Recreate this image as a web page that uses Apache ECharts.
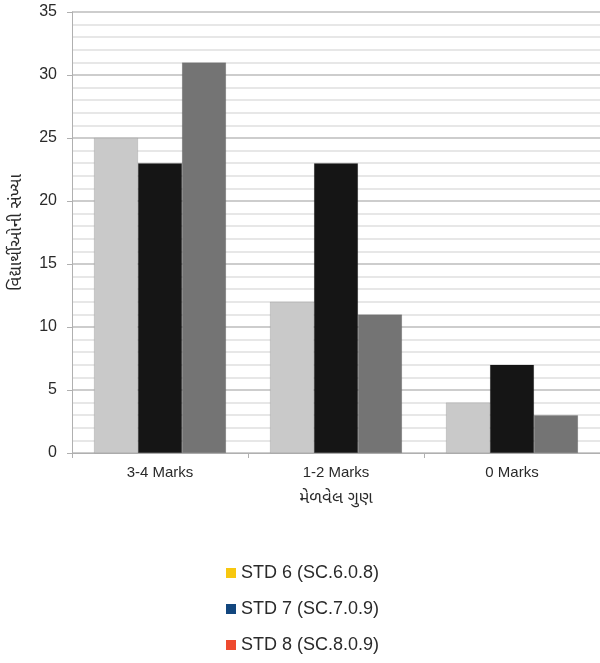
<!DOCTYPE html>
<html>
<head>
<meta charset="utf-8">
<script src="https://cdn.jsdelivr.net/npm/echarts@6/dist/echarts.min.js"></script>
<style>
html,body{margin:0;padding:0;background:#fff;}
#chart{width:600px;height:663px;}
</style>
</head>
<body>
<div id="chart"></div>
<script>
var categories = ['3-4 Marks', '1-2 Marks', '0 Marks'];
var seriesNames = ['STD 6 (SC.6.0.8)', 'STD 7 (SC.7.0.9)', 'STD 8 (SC.8.0.9)'];
var std6 = [25, 12, 4];
var std7 = [23, 23, 7];
var std8 = [31, 11, 3];
var barColors = ['#c9c9c9', '#151515', '#747474'];
var legendColors = ['#f7c70f', '#12467e', '#ee4a2f'];
var yAxisName = 'વિદ્યાર્થીઓની સંખ્યા';
var xAxisName = 'મેળવેલ ગુણ';

var fontFam = '"Liberation Sans", Arial, "Noto Sans Gujarati", "Noto Sans", sans-serif';
var chart = echarts.init(document.getElementById('chart'), null, {renderer: 'canvas'});
var values = [std6, std7, std8];
var series = seriesNames.map(function (n, i) {
  return {
    name: n,
    type: 'bar',
    data: values[i],
    barGap: '0%',
    barCategoryGap: '25%',
    itemStyle: {color: barColors[i], borderColor: 'rgba(0,0,0,0.2)', borderWidth: 0.5},
    emphasis: {disabled: true}
  };
});
chart.setOption({
  animation: false,
  backgroundColor: '#fff',
  grid: {left: 70, right: 0, top: 12, bottom: 210, containLabel: false},
  legend: {
    orient: 'vertical',
    left: 221,
    top: 559,
    itemWidth: 10,
    itemHeight: 10,
    itemGap: 18,
    icon: 'rect',
    itemStyle: {borderWidth: 0},
    textStyle: {fontSize: 18, color: '#2a2a2a', fontFamily: fontFam},
    data: seriesNames.map(function (n, i) {
      return {name: n, itemStyle: {color: legendColors[i], borderWidth: 0}};
    })
  },
  xAxis: {
    type: 'category',
    data: categories,
    name: xAxisName,
    nameLocation: 'middle',
    nameGap: 37,
    nameTextStyle: {fontSize: 17, color: '#2a2a2a', fontFamily: fontFam},
    axisLine: {lineStyle: {color: '#b0b0b0', width: 1}},
    axisTick: {show: true, length: 5, lineStyle: {color: '#b0b0b0'}},
    axisLabel: {fontSize: 15, color: '#2a2a2a', fontFamily: fontFam, margin: 12}
  },
  yAxis: {
    type: 'value',
    min: 0,
    max: 35,
    interval: 5,
    name: yAxisName,
    nameLocation: 'middle',
    nameGap: 47,
    nameTextStyle: {fontSize: 17, color: '#2a2a2a', fontFamily: fontFam},
    axisLine: {show: true, lineStyle: {color: '#b0b0b0', width: 1}},
    axisTick: {show: true, length: 5, lineStyle: {color: '#b0b0b0'}},
    axisLabel: {fontSize: 16, color: '#2a2a2a', fontFamily: fontFam, margin: 15},
    splitLine: {show: true, lineStyle: {color: '#bcbcbc', width: 1.5}},
    minorTick: {show: false, splitNumber: 5},
    minorSplitLine: {show: true, lineStyle: {color: '#e0e0e0', width: 1.5}}
  },
  series: series
});
</script>
</body>
</html>
